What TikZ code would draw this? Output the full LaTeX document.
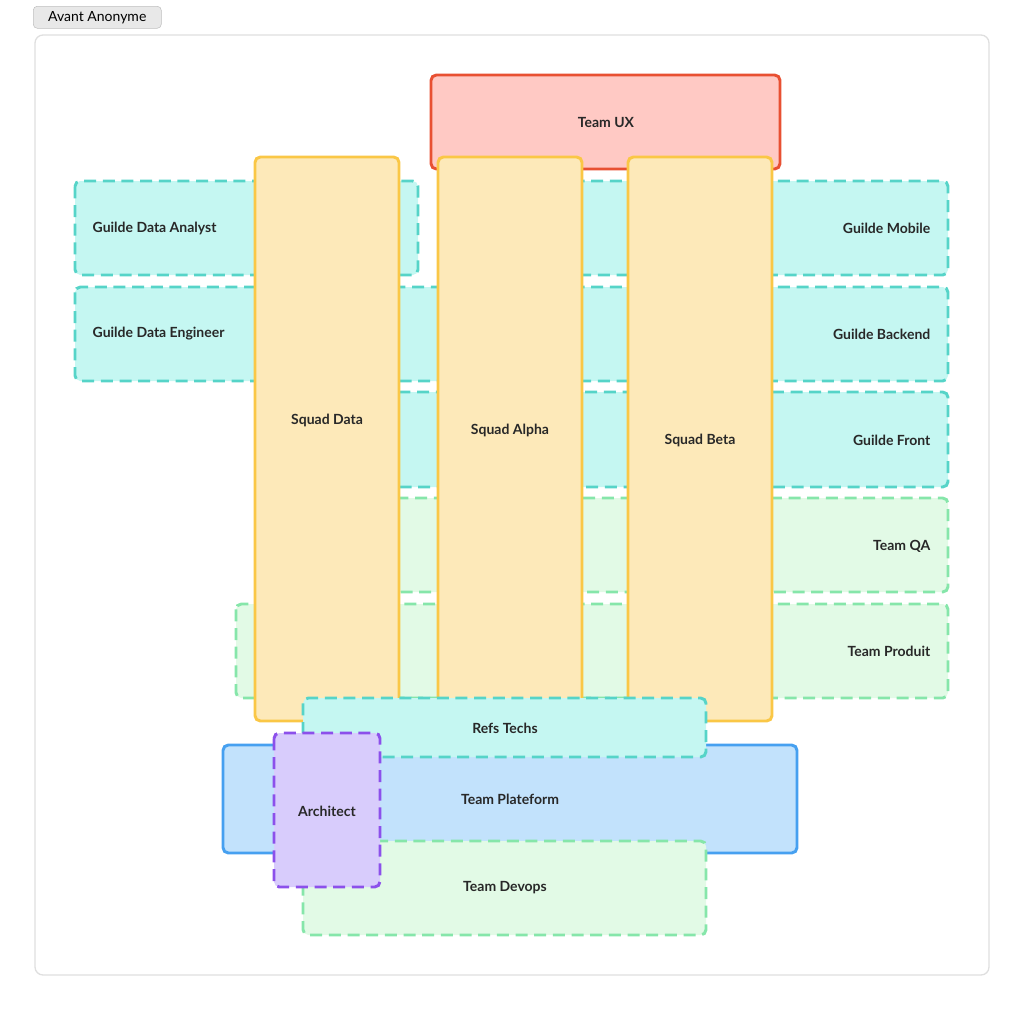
\documentclass[tikz,border=0pt]{standalone}
\usepackage{fontspec}
\setmainfont{Lato}
\begin{document}
\begin{tikzpicture}[x=0.75pt,y=-0.75pt,
 box/.style={rounded corners=4pt,line width=2.2pt},
 dsh/.style={box,dash pattern=on 9pt off 5pt},
 cy/.style={dsh,draw={rgb,255:red,86;green,212;blue,200},fill={rgb,255:red,197;green,247;blue,242}},
 gr/.style={dsh,draw={rgb,255:red,134;green,230;blue,170},fill={rgb,255:red,226;green,250;blue,230}},
 sq/.style={box,draw={rgb,255:red,250;green,199;blue,70},fill={rgb,255:red,253;green,233;blue,185}},
 lb/.style={font=\bfseries\fontsize{10.5}{12}\selectfont,text={rgb,255:red,40;green,40;blue,40}}]
\useasboundingbox (0,0) rectangle (1024,1011);
\node[draw=gray!50,fill=gray!18,rounded corners=3pt,minimum width=96pt,minimum height=16.5pt,anchor=north west,font=\fontsize{10.5}{12}\selectfont] (av) at (33,6) {Avant Anonyme};
\draw[gray!25,rounded corners=6pt,line width=1pt] (35,35) rectangle (989,975);
% guildes
\draw[cy] (460,181) rectangle (948,275);
\draw[cy] (75,181) rectangle (418,275);
\draw[cy] (460,287) rectangle (948,381);
\draw[cy] (75,287) rectangle (470,381);
\draw[cy] (300,392) rectangle (948,487);
\draw[gr] (300,498) rectangle (948,592);
\draw[gr] (236,604) rectangle (948,698);
\node[lb,anchor=east] (gm) at (935,228) {Guilde Mobile};
\node[lb,anchor=west] (ga) at (88,228) {Guilde Data Analyst};
\node[lb,anchor=east] (gb) at (935,334) {Guilde Backend};
\node[lb,anchor=west] (ge) at (88,334) {Guilde Data Engineer};
\node[lb,anchor=east] (gf) at (935,440) {Guilde Front};
\node[lb,anchor=east] (qa) at (935,546) {Team QA};
\node[lb,anchor=east] (tp) at (935,651) {Team Produit};
% UX
\draw[box,draw={rgb,255:red,232;green,80;blue,50},fill={rgb,255:red,255;green,201;blue,196}] (431,75) rectangle (780,169);
\node[lb] (ux) at (606,122) {Team UX};
% squads
\draw[sq] (255,157) rectangle (399,721);
\draw[sq] (438,157) rectangle (582,721);
\draw[sq] (628,157) rectangle (772,721);
\node[lb] (sd) at (327,420) {Squad Data};
\node[lb] (sa) at (510,430) {Squad Alpha};
\node[lb] (sb) at (700,440) {Squad Beta};
% bottom
\draw[box,draw={rgb,255:red,70;green,160;blue,240},fill={rgb,255:red,194;green,226;blue,252}] (223,745) rectangle (797,853);
\draw[cy] (303,698) rectangle (706,757);
\draw[gr] (303,841) rectangle (706,935);
\draw[dsh,draw={rgb,255:red,140;green,80;blue,235},fill={rgb,255:red,216;green,204;blue,252}] (274,733) rectangle (380,887);
\node[lb] (rt) at (505,728) {Refs Techs};
\node[lb] (pf) at (510,799) {Team Plateform};
\node[lb] (dv) at (505,888) {Team Devops};
\node[lb] (ar) at (327,811) {Architect};
\end{tikzpicture}
\end{document}
